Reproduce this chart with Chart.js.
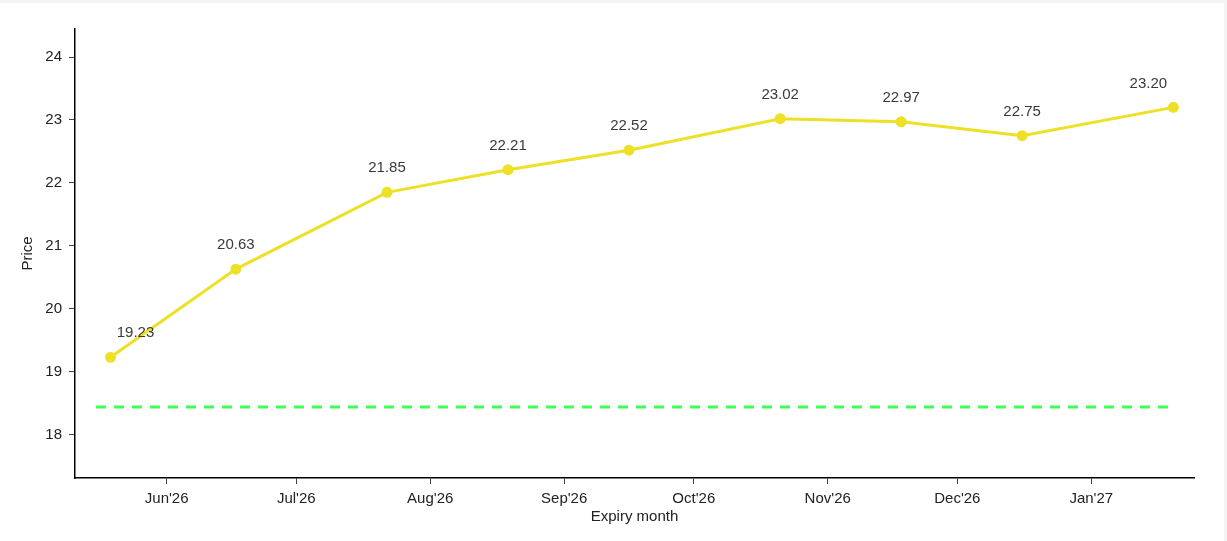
<!DOCTYPE html>
<html>
<head>
<meta charset="utf-8">
<script src="https://cdn.jsdelivr.net/npm/chart.js@4.4.1/dist/chart.umd.min.js"></script>
<style>
  html, body { margin: 0; padding: 0; background: #f4f4f4; }
  #wrap { position: absolute; left: 0; top: 3px; width: 1224px; height: 538px; background: #ffffff; }
</style>
</head>
<body>
<div id="wrap"><canvas id="c"></canvas></div>
<script>
// ---- data ----
const expiryDates = ['2026-05-19', '2026-06-17', '2026-07-22', '2026-08-19', '2026-09-16', '2026-10-21', '2026-11-18', '2026-12-16', '2027-01-20'];
const prices = [19.23, 20.63, 21.85, 22.21, 22.52, 23.02, 22.97, 22.75, 23.20];
const spotPrice = 18.44;
const spotStartDate = '2026-05-15T15:20:00Z';
const tickMonths = ['2026-06-01', '2026-07-01', '2026-08-01', '2026-09-01', '2026-10-01', '2026-11-01', '2026-12-01', '2027-01-01'];
const tickLabels = ["Jun'26", "Jul'26", "Aug'26", "Sep'26", "Oct'26", "Nov'26", "Dec'26", "Jan'27"];
const yTicks = [18, 19, 20, 21, 22, 23, 24];
const xRange = ['2026-05-10T18:40:00Z', '2027-01-24T18:40:00Z'];
const yRange = [17.312, 24.445];

const ts = s => Date.parse(s.length === 10 ? s + 'T00:00:00Z' : s);

const FONT = 'Arial, "Liberation Sans", sans-serif';
const YELLOW = 'rgb(237, 224, 38)';
const GREEN = 'rgb(64, 255, 80)';

const labelPlugin = {
  id: 'pointLabels',
  afterDatasetsDraw(chart) {
    const ctx = chart.ctx;
    const meta = chart.getDatasetMeta(0);
    ctx.save();
    ctx.font = '15px ' + FONT;
    ctx.fillStyle = '#3a3a3a';
    ctx.textAlign = 'center';
    ctx.textBaseline = 'middle';
    const n = meta.data.length;
    meta.data.forEach((pt, i) => {
      let dx = 0;
      if (i === 0) dx = 25;
      if (i === n - 1) dx = -25;
      ctx.fillText(prices[i].toFixed(2), pt.x + dx, pt.y - 24);
    });
    ctx.restore();
  }
};

new Chart(document.getElementById('c'), {
  type: 'line',
  data: {
    datasets: [
      {
        label: 'Futures',
        data: expiryDates.map((d, i) => ({ x: ts(d), y: prices[i] })),
        borderColor: YELLOW,
        backgroundColor: YELLOW,
        borderWidth: 3,
        pointRadius: 5.5,
        pointHoverRadius: 5.5,
        pointBorderWidth: 0,
        tension: 0,
        fill: false
      },
      {
        label: 'Spot',
        data: [{ x: ts(spotStartDate), y: spotPrice }, { x: ts(expiryDates[expiryDates.length - 1]), y: spotPrice }],
        borderColor: GREEN,
        borderWidth: 3,
        borderDash: [10, 8],
        pointRadius: 0,
        fill: false
      }
    ]
  },
  options: {
    responsive: true,
    maintainAspectRatio: false,
    animation: false,
    layout: { padding: { left: 0, top: 26, right: 30, bottom: 0 } },
    plugins: { legend: { display: false }, tooltip: { enabled: false } },
    scales: {
      x: {
        type: 'linear',
        min: ts(xRange[0]),
        max: ts(xRange[1]),
        afterBuildTicks: axis => { axis.ticks = tickMonths.map(m => ({ value: ts(m) })); },
        afterFit: axis => { axis.height = 63; },
        grid: { drawOnChartArea: false, drawTicks: true, tickLength: 6, color: '#444', tickWidth: 1 },
        border: { display: true, color: '#000', width: 1.5 },
        ticks: {
          autoSkip: false, maxRotation: 0, padding: 6, color: '#222',
          font: { family: FONT, size: 15 },
          callback: (v, i) => tickLabels[i]
        },
        title: {
          display: true, text: 'Expiry month', color: '#222',
          font: { family: FONT, size: 15 }, padding: { top: 0, bottom: 15 }
        }
      },
      y: {
        type: 'linear',
        min: yRange[0],
        max: yRange[1],
        afterBuildTicks: axis => { axis.ticks = yTicks.map(v => ({ value: v })); },
        afterFit: axis => { axis.width = 75; },
        grid: { drawOnChartArea: false, drawTicks: true, tickLength: 6, color: '#444', tickWidth: 1 },
        border: { display: true, color: '#000', width: 1.5 },
        ticks: {
          padding: 7, color: '#222',
          font: { family: FONT, size: 15 },
          callback: v => String(v)
        },
        title: {
          display: true, text: 'Price', color: '#222',
          font: { family: FONT, size: 15 }, padding: { top: 19, bottom: 0 }
        }
      }
    }
  },
  plugins: [labelPlugin]
});
</script>
</body>
</html>
